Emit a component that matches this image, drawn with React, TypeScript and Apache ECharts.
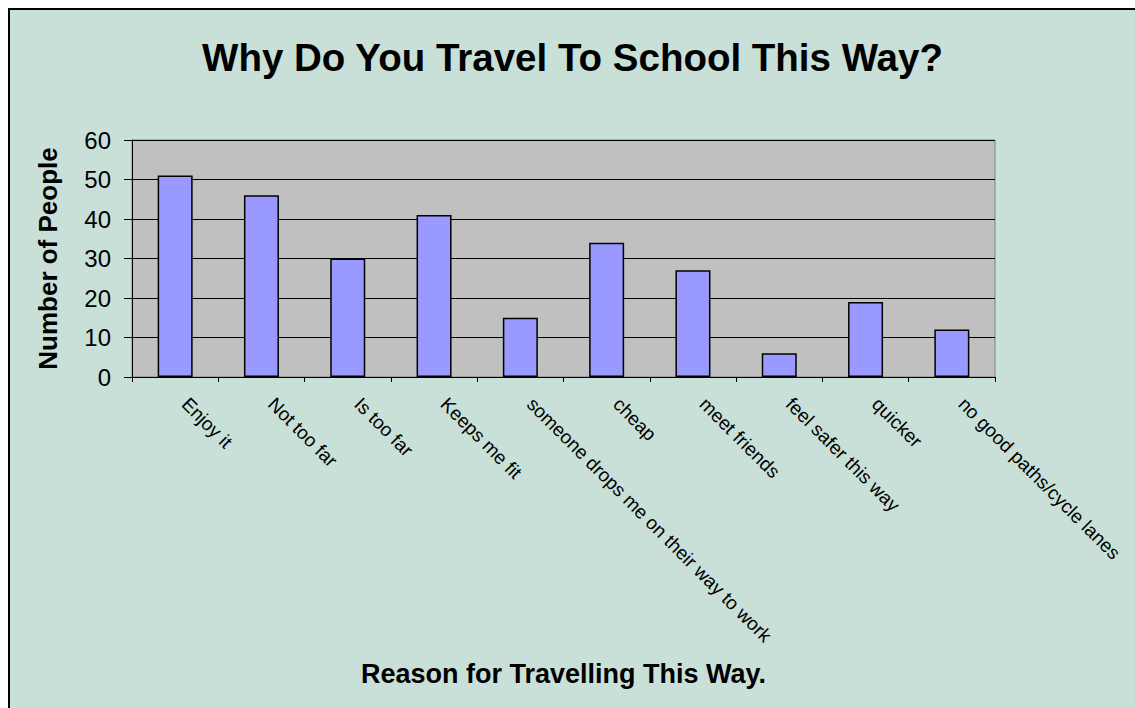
import React, { useEffect, useRef } from "react";
import * as echarts from "echarts";

const categories = [
  "Enjoy it",
  "Not too far",
  "Is too far",
  "Keeps me fit",
  "someone drops me on their way to work",
  "cheap",
  "meet friends",
  "feel safer this way",
  "quicker",
  "no good paths/cycle lanes",
];
const people = [51, 46, 30, 41, 15, 34, 27, 6, 19, 12];
const yTicks = { min: 0, max: 60, interval: 10 };

const titleText = "Why Do You Travel To School This Way?";
const xName = "Reason for Travelling This Way.";
const yName = "Number of People";

const FONT = "'Liberation Sans', Arial, sans-serif";

export default function App() {
  const ref = useRef<HTMLDivElement>(null);
  useEffect(() => {
    if (!ref.current) return;
    const chart = echarts.init(ref.current, null, { renderer: "svg" });
    chart.setOption({
      animation: false,
      backgroundColor: "#c8e0d8",
      title: {
        text: titleText,
        left: "center",
        top: 28,
        padding: 0,
        textStyle: { fontFamily: FONT, fontSize: 38.5, fontWeight: "bold", color: "#000" },
      },
      grid: {
        left: 122,
        top: 130,
        right: 140,
        bottom: 331,
        show: true,
        backgroundColor: "#c0c0c0",
        borderColor: "#808080",
        borderWidth: 1,
      },
      xAxis: {
        type: "category",
        data: categories,
        boundaryGap: true,
        name: xName,
        nameLocation: "middle",
        nameGap: 283,
        nameTextStyle: { fontFamily: FONT, fontSize: 27, fontWeight: "bold", color: "#000" },
        axisLine: { lineStyle: { color: "#000", width: 1 } },
        axisTick: { show: true, length: 5, lineStyle: { color: "#000" } },
        axisLabel: {
          rotate: -45,
          margin: 14,
          padding: [0, 0, 0, 14],
          interval: 0,
          fontFamily: FONT,
          fontSize: 19,
          color: "#000",
        },
      },
      yAxis: {
        type: "value",
        min: yTicks.min,
        max: yTicks.max,
        interval: yTicks.interval,
        name: yName,
        nameLocation: "middle",
        nameRotate: 90,
        nameGap: 71,
        nameTextStyle: { fontFamily: FONT, fontSize: 26, fontWeight: "bold", color: "#000" },
        axisLine: { show: true, lineStyle: { color: "#000", width: 1 } },
        axisTick: { show: true, length: 8, lineStyle: { color: "#000" } },
        axisLabel: { margin: 21, fontFamily: FONT, fontSize: 24, color: "#000" },
        splitLine: { show: true, lineStyle: { color: "#000", width: 1 } },
      },
      series: [
        {
          type: "bar",
          data: people,
          barWidth: 35,
          itemStyle: { color: "#9999ff", borderColor: "#000", borderWidth: 1.5 },
        },
      ],
    });
    return () => chart.dispose();
  }, []);
  return (
    <div
      style={{
        position: "fixed",
        left: 8,
        top: 8,
        width: 1127,
        height: 700,
        boxSizing: "border-box",
        overflow: "hidden",
        borderLeft: "2px solid #000",
        borderTop: "2px solid #000",
        background: "#c8e0d8",
      }}
    >
      <div ref={ref} style={{ width: 1125, height: 698 }} />
    </div>
  );
}
